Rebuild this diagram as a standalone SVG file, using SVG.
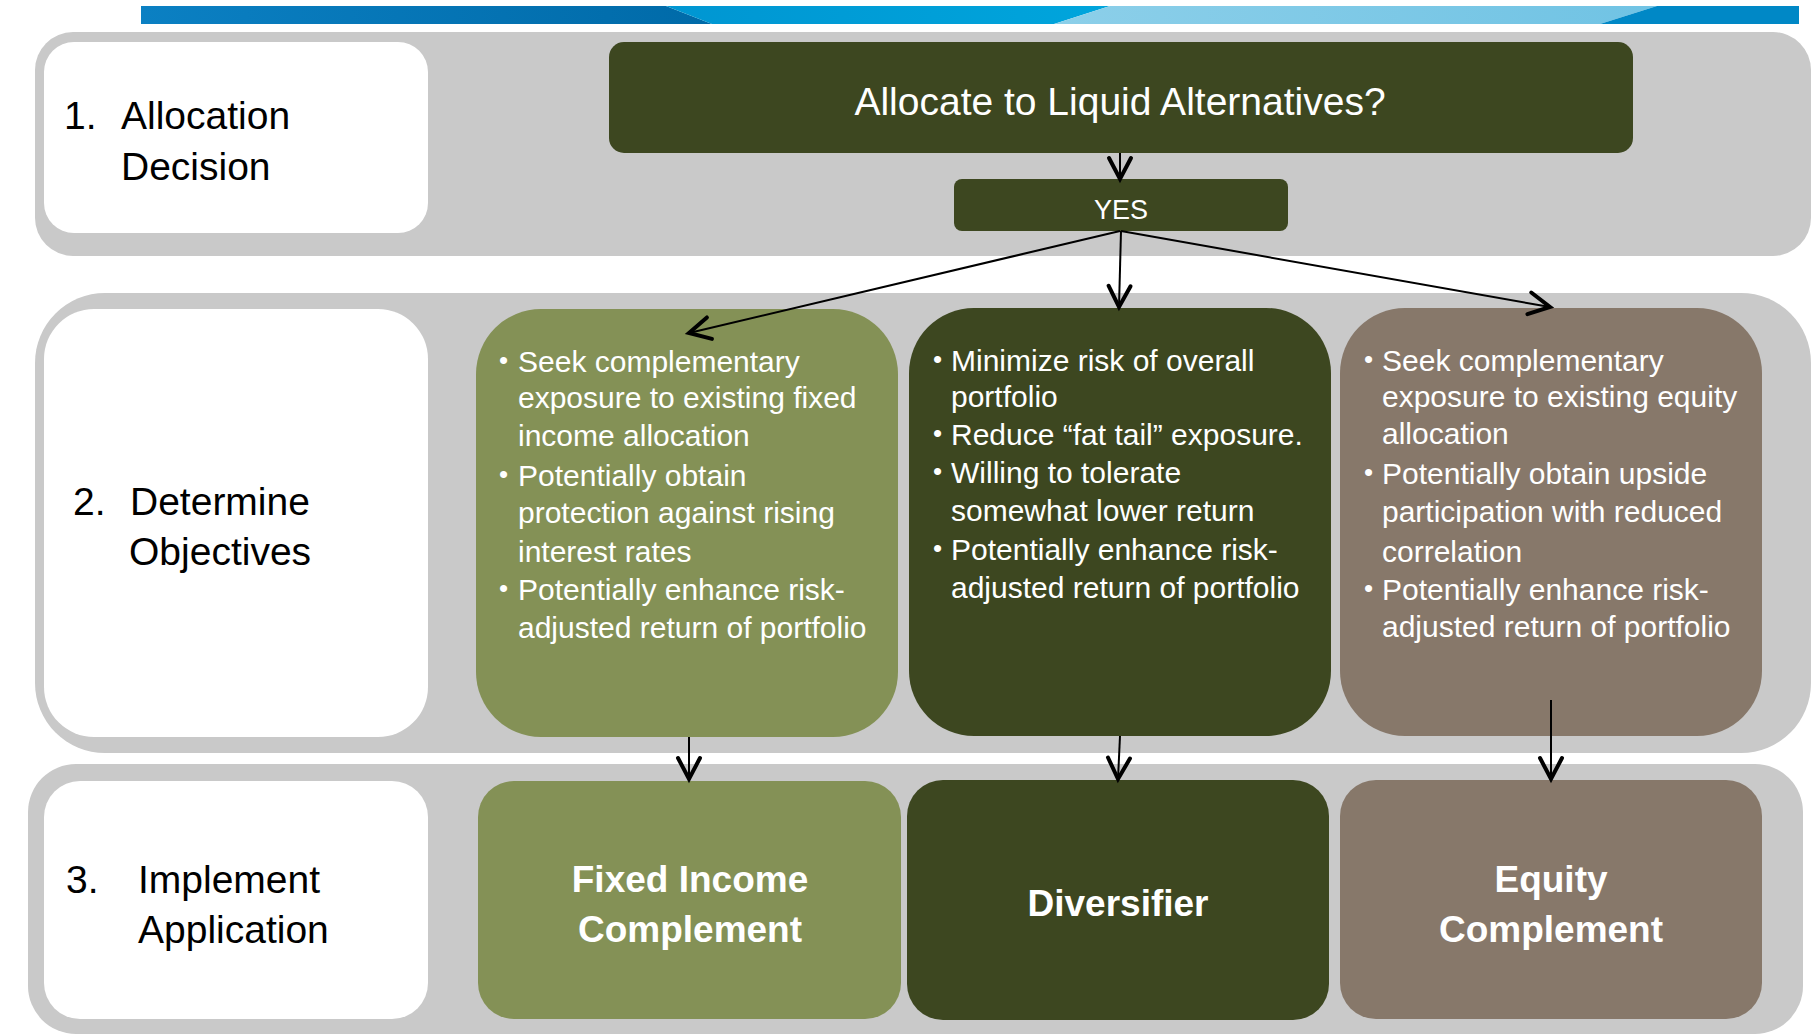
<svg xmlns="http://www.w3.org/2000/svg" width="1815" height="1034" viewBox="0 0 1815 1034">
  <defs>
    <style>
      .panel { fill: #c9c9c9; }
      .white { fill: #ffffff; }
      .dark { fill: #3d4720; }
      .olive { fill: #849156; }
      .brown { fill: #87786a; }
      text { font-family: "Liberation Sans", Arial, sans-serif; }
      .label { font-size: 39px; fill: #000000; }
      .head { font-size: 39px; fill: #ffffff; text-anchor: middle; }
      .yes { font-size: 27px; fill: #ffffff; text-anchor: middle; }
      .bul { font-size: 30px; fill: #ffffff; }
      .dot { font-size: 26px; fill: #ffffff; }
      .big { font-size: 37px; font-weight: bold; fill: #ffffff; text-anchor: middle; }
      .conn { stroke: #000000; stroke-width: 2; fill: none; marker-end: url(#arrow); }
    </style>
    <marker id="arrow" markerUnits="userSpaceOnUse" viewBox="-26 -15 30 30" markerWidth="30" markerHeight="30" refX="0" refY="0" orient="auto" overflow="visible">
      <path d="M -21 -11 L 0 0 L -21 11" fill="none" stroke="#000000" stroke-width="4" stroke-linecap="round" stroke-linejoin="miter"/>
    </marker>
    <linearGradient id="gA" x1="0" y1="0" x2="1" y2="0">
      <stop offset="0" stop-color="#0b80c3"/>
      <stop offset="1" stop-color="#006aa8"/>
    </linearGradient>
    <linearGradient id="gB" x1="0" y1="0" x2="1" y2="0">
      <stop offset="0" stop-color="#0096d2"/>
      <stop offset="1" stop-color="#00a5dc"/>
    </linearGradient>
    <linearGradient id="gC" x1="0" y1="0" x2="1" y2="0">
      <stop offset="0" stop-color="#8ccfe9"/>
      <stop offset="1" stop-color="#70c3e4"/>
    </linearGradient>
  </defs>

  <rect x="0" y="0" width="1815" height="1034" fill="#ffffff"/>

  <!-- top banner -->
  <g id="banner">
    <polygon points="141,6 666,6 712,24 141,24" fill="url(#gA)"/>
    <polygon points="666,6 1110,6 1054,24 712,24" fill="url(#gB)"/>
    <polygon points="1110,6 1657,6 1600,24 1054,24" fill="url(#gC)"/>
    <polygon points="1657,6 1799,6 1799,24 1600,24" fill="#0088c6"/>
  </g>

  <!-- row panels -->
  <g id="panels">
    <rect class="panel" x="35" y="32" width="1776" height="224" rx="38" ry="38"/>
    <rect class="panel" x="35" y="293" width="1776" height="460" rx="70" ry="70"/>
    <rect class="panel" x="28" y="764" width="1775" height="270" rx="48" ry="48"/>
  </g>

  <!-- Row 1 -->
  <g id="step1">
    <rect class="white" x="44" y="42" width="384" height="191" rx="30" ry="30"/>
    <text class="label" x="64" y="129">1.</text>
    <text class="label" x="121" y="129">Allocation</text>
    <text class="label" x="121" y="180">Decision</text>
  </g>
  <g id="question">
    <rect class="dark" x="609" y="42" width="1024" height="111" rx="15" ry="15"/>
    <text class="head" x="1120" y="115">Allocate to Liquid Alternatives?</text>
  </g>
  <g id="yes">
    <rect class="dark" x="954" y="179" width="334" height="52" rx="8" ry="8"/>
    <text class="yes" x="1121" y="219">YES</text>
  </g>

  <!-- Row 2 -->
  <g id="step2">
    <rect class="white" x="44" y="309" width="384" height="428" rx="50" ry="50"/>
    <text class="label" x="73" y="515">2.</text>
    <text class="label" x="130" y="515">Determine</text>
    <text class="label" x="129" y="565">Objectives</text>
  </g>
  <g id="obj-fixed-income">
    <rect class="olive" x="476" y="309" width="422" height="428" rx="65" ry="65"/>
    <text class="dot" x="499" y="369">•</text>
    <text class="bul" x="518" y="372">Seek complementary</text>
    <text class="bul" x="518" y="408">exposure to existing fixed</text>
    <text class="bul" x="518" y="446">income allocation</text>
    <text class="dot" x="499" y="483">•</text>
    <text class="bul" x="518" y="486">Potentially obtain</text>
    <text class="bul" x="518" y="523">protection against rising</text>
    <text class="bul" x="518" y="562">interest rates</text>
    <text class="dot" x="499" y="597">•</text>
    <text class="bul" x="518" y="600">Potentially enhance risk-</text>
    <text class="bul" x="518" y="638">adjusted return of portfolio</text>
  </g>
  <g id="obj-diversifier">
    <rect class="dark" x="909" y="308" width="422" height="428" rx="65" ry="65"/>
    <text class="dot" x="933" y="368">•</text>
    <text class="bul" x="951" y="371">Minimize risk of overall</text>
    <text class="bul" x="951" y="407">portfolio</text>
    <text class="dot" x="933" y="442">•</text>
    <text class="bul" x="951" y="445">Reduce “fat tail” exposure.</text>
    <text class="dot" x="933" y="480">•</text>
    <text class="bul" x="951" y="483">Willing to tolerate</text>
    <text class="bul" x="951" y="521">somewhat lower return</text>
    <text class="dot" x="933" y="557">•</text>
    <text class="bul" x="951" y="560">Potentially enhance risk-</text>
    <text class="bul" x="951" y="598">adjusted return of portfolio</text>
  </g>
  <g id="obj-equity">
    <rect class="brown" x="1340" y="308" width="422" height="428" rx="65" ry="65"/>
    <text class="dot" x="1364" y="368">•</text>
    <text class="bul" x="1382" y="371">Seek complementary</text>
    <text class="bul" x="1382" y="407">exposure to existing equity</text>
    <text class="bul" x="1382" y="444">allocation</text>
    <text class="dot" x="1364" y="481">•</text>
    <text class="bul" x="1382" y="484">Potentially obtain upside</text>
    <text class="bul" x="1382" y="522">participation with reduced</text>
    <text class="bul" x="1382" y="562">correlation</text>
    <text class="dot" x="1364" y="597">•</text>
    <text class="bul" x="1382" y="600">Potentially enhance risk-</text>
    <text class="bul" x="1382" y="637">adjusted return of portfolio</text>
  </g>

  <!-- Row 3 -->
  <g id="step3">
    <rect class="white" x="44" y="781" width="384" height="238" rx="36" ry="36"/>
    <text class="label" x="66" y="893">3.</text>
    <text class="label" x="138" y="893">Implement</text>
    <text class="label" x="138" y="943">Application</text>
  </g>
  <g id="app-fixed-income">
    <rect class="olive" x="478" y="781" width="423" height="238" rx="36" ry="36"/>
    <text class="big" x="690" y="892">Fixed Income</text>
    <text class="big" x="690" y="942">Complement</text>
  </g>
  <g id="app-diversifier">
    <rect class="dark" x="907" y="780" width="422" height="240" rx="36" ry="36"/>
    <text class="big" x="1118" y="916">Diversifier</text>
  </g>
  <g id="app-equity">
    <rect class="brown" x="1340" y="780" width="422" height="239" rx="36" ry="36"/>
    <text class="big" x="1551" y="892">Equity</text>
    <text class="big" x="1551" y="942">Complement</text>
  </g>

  <!-- connectors -->
  <g id="connectors">
    <line class="conn" x1="1120" y1="153" x2="1120" y2="179"/>
    <line class="conn" x1="1120" y1="231" x2="689" y2="333"/>
    <line class="conn" x1="1121" y1="231" x2="1119" y2="307"/>
    <line class="conn" x1="1121" y1="231" x2="1550" y2="307"/>
    <line class="conn" x1="689" y1="737" x2="689" y2="779"/>
    <line class="conn" x1="1120" y1="736" x2="1118" y2="779"/>
    <line class="conn" x1="1551" y1="700" x2="1551" y2="779"/>
  </g>
</svg>
